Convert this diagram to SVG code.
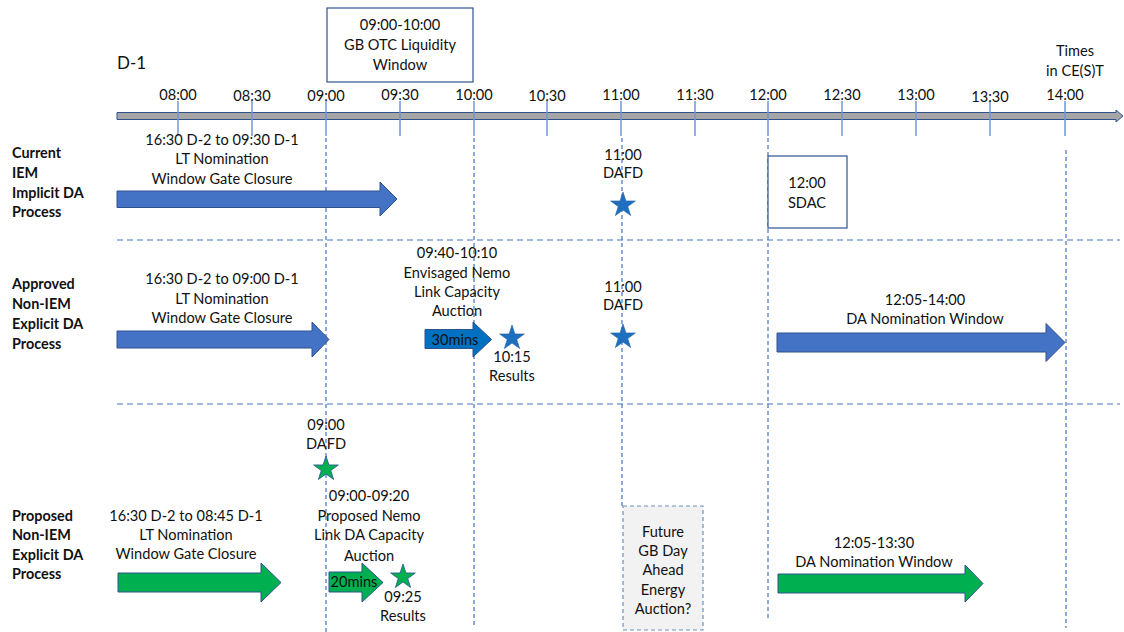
<svg xmlns="http://www.w3.org/2000/svg" width="1124" height="632" viewBox="0 0 1124 632">
<style>
text{font-family:Lato,"Liberation Sans",sans-serif;font-size:14.6px;fill:#111;text-anchor:middle}
.lbl{font-weight:bold;text-anchor:start;font-size:14.4px}
.tk{stroke:#6F96D6;stroke-width:1.5}
.vd{stroke:#4472C4;stroke-width:1.2;stroke-dasharray:4 3;fill:none}
.hd{stroke:#4472C4;stroke-width:1.2;stroke-dasharray:6 4;fill:none}
.ba{fill:#4472C4;stroke:#2F528F;stroke-width:1}
.da{fill:#0070C0;stroke:#2F528F;stroke-width:1}
.ga{fill:#00B050;stroke:#2F528F;stroke-width:1}
.bs{fill:#1F6FC0;stroke:#1F5FA0;stroke-width:0.6}
.gs{fill:#00B050;stroke:#2F528F;stroke-width:0.8}
.box{fill:#fff;stroke:#2F528F;stroke-width:1.2}
</style>
<defs>
<path id="star" d="M0,-13 L2.94,-4.05 L12.36,-4.02 L4.76,1.55 L7.64,10.52 L0,5 L-7.64,10.52 L-4.76,1.55 L-12.36,-4.02 L-2.94,-4.05 Z"/>
</defs>
<rect width="1124" height="632" fill="#fff"/>

<g id="guides">
<line class="vd" x1="326" y1="138" x2="326" y2="632"/>
<line class="vd" x1="474" y1="138" x2="474" y2="628"/>
<line class="vd" x1="622" y1="138" x2="622" y2="506"/>
<line class="vd" x1="768" y1="138" x2="768" y2="620"/>
<line class="vd" x1="1066" y1="150" x2="1066" y2="628"/>
<line class="hd" x1="117" y1="240" x2="1120" y2="240"/>
<line class="hd" x1="117" y1="404" x2="1120" y2="404"/>
</g>

<g id="timeline">
<polygon points="117,112.5 1116,112.5 1116,110 1123,116 1116,122 1116,119.5 117,119.5" fill="#A5A5A5" stroke="#2F528F" stroke-width="1"/>
<g class="tk">
<line x1="178" y1="101" x2="178" y2="136"/>
<line x1="252" y1="101" x2="252" y2="136"/>
<line x1="326" y1="101" x2="326" y2="136"/>
<line x1="400" y1="101" x2="400" y2="136"/>
<line x1="474" y1="101" x2="474" y2="136"/>
<line x1="547" y1="101" x2="547" y2="136"/>
<line x1="621" y1="101" x2="621" y2="136"/>
<line x1="695" y1="101" x2="695" y2="136"/>
<line x1="768" y1="101" x2="768" y2="136"/>
<line x1="842" y1="101" x2="842" y2="136"/>
<line x1="916" y1="101" x2="916" y2="136"/>
<line x1="990" y1="101" x2="990" y2="136"/>
<line x1="1065" y1="101" x2="1065" y2="136"/>
</g>
<text x="178" y="100">08:00</text>
<text x="252" y="101">08:30</text>
<text x="326" y="101">09:00</text>
<text x="400" y="100">09:30</text>
<text x="474" y="100">10:00</text>
<text x="547" y="101">10:30</text>
<text x="621" y="100">11:00</text>
<text x="695" y="100">11:30</text>
<text x="768" y="100">12:00</text>
<text x="842" y="100">12:30</text>
<text x="916" y="100">13:00</text>
<text x="990" y="102">13:30</text>
<text x="1065" y="100">14:00</text>
<text x="117" y="69" style="text-anchor:start;font-size:17px">D-1</text>
<text x="1075" y="56">Times</text>
<text x="1075" y="76">in CE(S)T</text>
</g>

<g id="otc-window">
<rect class="box" x="327" y="8" width="146" height="74"/>
<text x="400" y="30">09:00-10:00</text>
<text x="400" y="50">GB OTC Liquidity</text>
<text x="400" y="70">Window</text>
</g>

<g id="row-current">
<text class="lbl" x="12" y="158">Current</text>
<text class="lbl" x="12" y="178">IEM</text>
<text class="lbl" x="12" y="198">Implicit DA</text>
<text class="lbl" x="12" y="217">Process</text>
<text x="222" y="145">16:30 D-2 to 09:30 D-1</text>
<text x="222" y="164">LT Nomination</text>
<text x="222" y="184">Window Gate Closure</text>
<polygon class="ba" points="117,191 380,191 380,182 397,199 380,216 380,207.5 117,207.5"/>
<text x="623" y="160">11:00</text>
<text x="623" y="178">DAFD</text>
<use href="#star" class="bs" x="623" y="205"/>
</g>

<g id="sdac">
<rect class="box" x="768" y="156" width="79" height="72"/>
<text x="807" y="188">12:00</text>
<text x="807" y="208">SDAC</text>
</g>

<g id="row-approved">
<text class="lbl" x="12" y="289">Approved</text>
<text class="lbl" x="12" y="309">Non-IEM</text>
<text class="lbl" x="12" y="329">Explicit DA</text>
<text class="lbl" x="12" y="349">Process</text>
<text x="222" y="284">16:30 D-2 to 09:00 D-1</text>
<text x="222" y="304">LT Nomination</text>
<text x="222" y="323">Window Gate Closure</text>
<polygon class="ba" points="117,331 312,331 312,322 329,339.5 312,357 312,348 117,348"/>
<text x="457" y="258">09:40-10:10</text>
<text x="457" y="278">Envisaged Nemo</text>
<text x="457" y="297">Link Capacity</text>
<text x="457" y="316">Auction</text>
<polygon class="da" points="425,329.5 473,329.5 473,322 491.5,339.5 473,357 473,348.5 425,348.5"/>
<text x="455" y="344.5">30mins</text>
<use href="#star" class="bs" x="512" y="338"/>
<text x="512" y="362">10:15</text>
<text x="512" y="381">Results</text>
<text x="623" y="292">11:00</text>
<text x="623" y="310">DAFD</text>
<use href="#star" class="bs" x="623" y="337"/>
<text x="925" y="305">12:05-14:00</text>
<text x="925" y="324">DA Nomination Window</text>
<polygon class="ba" points="777,333 1046,333 1046,323.5 1065,342.5 1046,361.5 1046,352 777,352"/>
</g>

<g id="row-proposed">
<text class="lbl" x="12" y="521">Proposed</text>
<text class="lbl" x="12" y="540">Non-IEM</text>
<text class="lbl" x="12" y="560">Explicit DA</text>
<text class="lbl" x="12" y="579">Process</text>
<text x="186" y="521">16:30 D-2 to 08:45 D-1</text>
<text x="186" y="540">LT Nomination</text>
<text x="186" y="559">Window Gate Closure</text>
<polygon class="ga" points="118,573 261,573 261,563 281,582.5 261,602 261,592 118,592"/>
<text x="326" y="430">09:00</text>
<text x="326" y="449">DAFD</text>
<use href="#star" class="gs" x="326" y="469"/>
<text x="369" y="501">09:00-09:20</text>
<text x="369" y="521">Proposed Nemo</text>
<text x="369" y="540">Link DA Capacity</text>
<text x="369" y="561">Auction</text>
<polygon class="ga" points="329,572 362,572 362,563 383,582.5 362,602 362,592 329,592"/>
<text x="354" y="587">20mins</text>
<use href="#star" class="gs" x="403" y="577"/>
<text x="403" y="602">09:25</text>
<text x="403" y="621">Results</text>
<text x="874" y="548">12:05-13:30</text>
<text x="874" y="567">DA Nomination Window</text>
<polygon class="ga" points="778,574 965,574 965,565 983,583.5 965,602 965,593 778,593"/>
</g>

<g id="future-auction">
<rect x="623" y="506" width="80" height="124" fill="#F2F2F2" stroke="#6F8FC0" stroke-width="1.2" stroke-dasharray="4 3"/>
<text x="663" y="537">Future</text>
<text x="663" y="556">GB Day</text>
<text x="663" y="575">Ahead</text>
<text x="663" y="595">Energy</text>
<text x="663" y="614">Auction?</text>
</g>
</svg>
